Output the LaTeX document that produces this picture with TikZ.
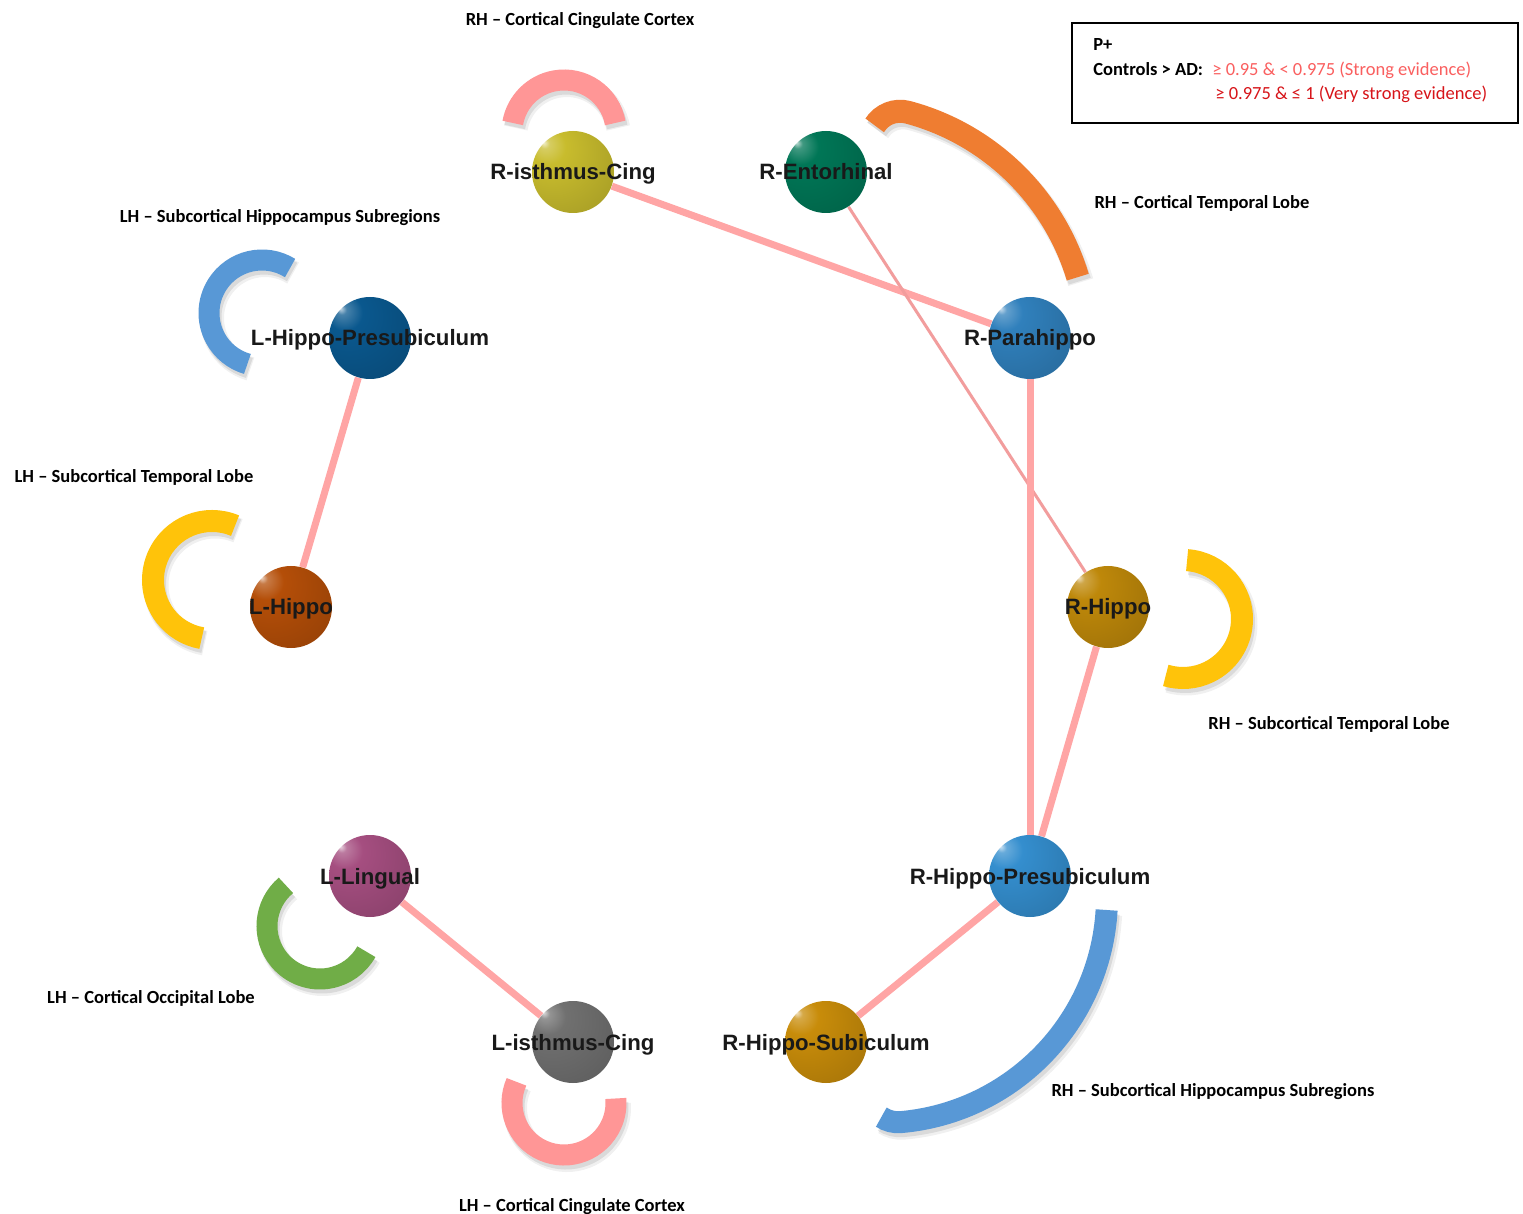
\documentclass[tikz,border=0pt]{standalone}
\usepackage{fontspec}
\setmainfont{Carlito}
\newfontfamily\labelfont{Liberation Sans}
\usetikzlibrary{calc}
\pgfdeclarelayer{bg}
\pgfsetlayers{bg,main}

% group arcs
\definecolor{arcpink}{RGB}{255,150,150}
\definecolor{arcorange}{RGB}{239,125,49}
\definecolor{arcblue}{RGB}{88,152,214}
\definecolor{arcyellow}{RGB}{255,195,10}
\definecolor{arcgreen}{RGB}{112,173,71}
% connections
\definecolor{edgepink}{RGB}{255,165,165}
% legend
\definecolor{redlight}{RGB}{250,95,95}
\definecolor{reddark}{RGB}{215,20,25}
% region spheres
\definecolor{cRIC}{RGB}{200,188,45}
\definecolor{cRENT}{RGB}{0,118,86}
\definecolor{cRPH}{RGB}{48,128,188}
\definecolor{cRH}{RGB}{190,136,10}
\definecolor{cRHP}{RGB}{52,142,206}
\definecolor{cRHS}{RGB}{200,140,10}
\definecolor{cLIC}{RGB}{112,112,112}
\definecolor{cLL}{RGB}{165,78,128}
\definecolor{cLH}{RGB}{180,78,8}
\definecolor{cLHP}{RGB}{10,88,142}

\colorlet{sphc}{gray}
\pgfdeclareradialshading[sphc]{glossy}{\pgfpoint{-18bp}{18bp}}{%
  color(0bp)=(sphc!25!white); color(3bp)=(sphc!75!white); color(11bp)=(sphc);
  color(40bp)=(sphc!85!black); color(78bp)=(sphc!40!black)}

\tikzset{
  x=0.5pt, y=-0.5pt,
  ballcol/.code={\colorlet{sphc}{#1}},
  ball/.style={circle, inner sep=0pt, minimum size=41pt, shading=glossy, ballcol=#1},
  roi/.style={font=\labelfont\bfseries\fontsize{11.1}{13}\selectfont, text=black!90, inner sep=0pt, anchor=base},
  grp/.style={font=\bfseries\fontsize{9.25}{11}\selectfont, inner sep=0pt, anchor=base},
  lgd/.style={font=\fontsize{9.25}{11}\selectfont, inner sep=0pt, anchor=base west},
  link/.style={draw=edgepink, line width=3.5pt},
  thinlink/.style={draw=edgepink!95!black, line width=1.5pt},
}

% thick circular band with a soft drop shadow:
% centre x, centre y, radius, width, start angle, end angle, colour
\newcommand\ringband[7]{%
  \draw[line width=#4+1.5pt, black, opacity=.06]
    ([shift={(#5:#3)}]#1+3,#2+5) arc[start angle=#5, end angle=#6, radius=#3];
  \draw[line width=#4, black, opacity=.09]
    ([shift={(#5:#3)}]#1+2,#2+4) arc[start angle=#5, end angle=#6, radius=#3];
  \draw[line width=#4, #7]
    ([shift={(#5:#3)}]#1,#2) arc[start angle=#5, end angle=#6, radius=#3];}

\begin{document}
\begin{tikzpicture}
\begin{pgfonlayer}{bg}
\fill[white] (0,0) rectangle (1523,1214);
\end{pgfonlayer}
\useasboundingbox (0,0) rectangle (1523,1214);

% group arcs
\ringband{564}{132}{26pt}{10.5pt}{10}{170}{arcpink}
\ringband{564}{1103}{26pt}{10.5pt}{156}{365}{arcpink}
\ringband{262}{313}{26.5pt}{10.5pt}{58}{254}{arcblue}
\ringband{212}{580}{29.5pt}{11pt}{67}{260}{arcyellow}
\ringband{1183}{619}{29.5pt}{11pt}{86}{-107}{arcyellow}
\ringband{320}{926}{26.5pt}{10.5pt}{130}{331}{arcgreen}

% long hooked bands
\draw[line width=13pt, black, opacity=.06]
  ([shift={(16.7:121.5pt)}]848,352) arc[start angle=16.7, end angle=75, radius=121.5pt]
  arc[start angle=75, end angle=148, radius=15pt];
\draw[line width=11.5pt, black, opacity=.09]
  ([shift={(16.7:121.5pt)}]847,351) arc[start angle=16.7, end angle=75, radius=121.5pt]
  arc[start angle=75, end angle=148, radius=15pt];
\draw[line width=11.5pt, arcorange]
  ([shift={(16.7:121.5pt)}]845,347) arc[start angle=16.7, end angle=75, radius=121.5pt]
  arc[start angle=75, end angle=148, radius=15pt];
\draw[line width=12.5pt, black, opacity=.06]
  ([shift={(-3.3:113pt)}]884,902) arc[start angle=-3.3, end angle=-85, radius=113pt]
  arc[start angle=-85, end angle=-124, radius=15pt];
\draw[line width=11pt, black, opacity=.09]
  ([shift={(-3.3:113pt)}]883,901) arc[start angle=-3.3, end angle=-85, radius=113pt]
  arc[start angle=-85, end angle=-124, radius=15pt];
\draw[line width=11pt, arcblue]
  ([shift={(-3.3:113pt)}]881,897) arc[start angle=-3.3, end angle=-85, radius=113pt]
  arc[start angle=-85, end angle=-124, radius=15pt];

% regions
\node[ball=cRIC]  (ric)  at (573,172) {};
\node[ball=cRENT] (rent) at (826,172) {};
\node[ball=cRPH]  (rph)  at (1030,338) {};
\node[ball=cRH]   (rh)   at (1108,607) {};
\node[ball=cRHP]  (rhp)  at (1030,876) {};
\node[ball=cRHS]  (rhs)  at (826,1042) {};
\node[ball=cLIC]  (lic)  at (573,1042) {};
\node[ball=cLL]   (ll)   at (370,876) {};
\node[ball=cLH]   (lh)   at (291,607) {};
\node[ball=cLHP]  (lhp)  at (370,338) {};

% connections
\begin{pgfonlayer}{bg}
\draw[link] (ric) -- (rph);
\draw[thinlink] (rent) -- (rh);
\draw[link] (rph) -- (rhp);
\draw[link] (rh) -- (rhp);
\draw[link] (rhp) -- (rhs);
\draw[link] (ll) -- (lic);
\draw[link] (lhp) -- (lh);
\end{pgfonlayer}

% region names
\node[roi] (ricL)  at ([yshift=-4pt]ric.center)  {R-isthmus-Cing};
\node[roi] (rentL) at ([yshift=-4pt]rent.center) {R-Entorhinal};
\node[roi] (rphL)  at ([yshift=-4pt]rph.center)  {R-Parahippo};
\node[roi] (rhL)   at ([yshift=-4pt]rh.center)   {R-Hippo};
\node[roi] (rhpL)  at ([yshift=-4pt]rhp.center)  {R-Hippo-Presubiculum};
\node[roi] (rhsL)  at ([yshift=-4pt]rhs.center)  {R-Hippo-Subiculum};
\node[roi] (licL)  at ([yshift=-4pt]lic.center)  {L-isthmus-Cing};
\node[roi] (llL)   at ([yshift=-4pt]ll.center)   {L-Lingual};
\node[roi] (lhL)   at ([yshift=-4pt]lh.center)   {L-Hippo};
\node[roi] (lhpL)  at ([yshift=-4pt]lhp.center)  {L-Hippo-Presubiculum};

% group names
\node[grp] (g1) at (580,26)   {RH – Cortical Cingulate Cortex};
\node[grp] (g2) at (1202,209) {RH – Cortical Temporal Lobe};
\node[grp] (g3) at (280,223)  {LH – Subcortical Hippocampus Subregions};
\node[grp] (g4) at (134,483)  {LH – Subcortical Temporal Lobe};
\node[grp] (g5) at (1329,729) {RH – Subcortical Temporal Lobe};
\node[grp] (g6) at (151,1003) {LH – Cortical Occipital Lobe};
\node[grp] (g7) at (1213,1096) {RH – Subcortical Hippocampus Subregions};
\node[grp] (g8) at (572,1211) {LH – Cortical Cingulate Cortex};

% legend
\node[draw, line width=1pt, inner sep=0pt, minimum width=223pt, minimum height=50pt,
      anchor=north west] (legend) at (1071,22) {};
\node[lgd, font=\bfseries\fontsize{9.25}{11}\selectfont] (pplus) at (1093,51) {P+};
\node[lgd, font=\bfseries\fontsize{9.25}{11}\selectfont] (ctrl) at (1093,76) {Controls > AD:};
\node[lgd, text=redlight] (strong) at (1212,76) {≥ 0.95 \& < 0.975 (Strong evidence)};
\node[lgd, text=reddark] (vstrong) at (1215,100) {≥ 0.975 \& ≤ 1 (Very strong evidence)};
\end{tikzpicture}
\end{document}
